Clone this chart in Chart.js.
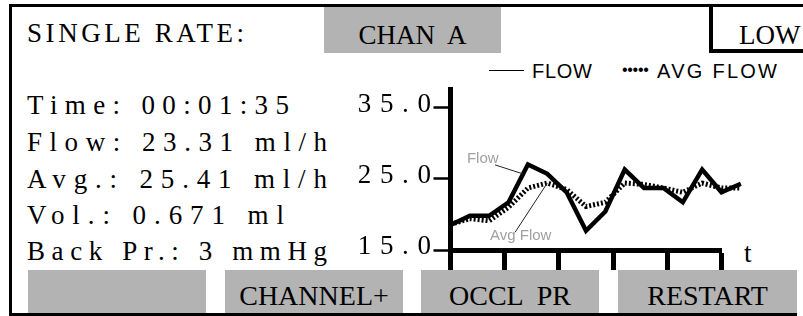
<!DOCTYPE html>
<html><head><meta charset="utf-8">
<script src="https://cdn.jsdelivr.net/npm/chart.js@4.4.1/dist/chart.umd.min.js"></script>
<style>
html,body{margin:0;padding:0;background:#fff;}
body{width:803px;height:316px;position:relative;overflow:hidden;font-family:"Liberation Serif","DejaVu Serif",serif;color:#000;}
.t{position:absolute;font-size:27px;line-height:27px;white-space:pre;}
.b{position:absolute;font-size:28px;line-height:28px;white-space:pre;text-align:center;}
.s{position:absolute;font-family:"Liberation Sans",Arial,sans-serif;font-size:20px;line-height:20px;white-space:pre;}
.box{position:absolute;background:#b3b3b3;}
.ln{position:absolute;background:#000;}
#wrap{position:absolute;left:340px;top:60px;width:460px;height:215px;z-index:5;}
</style>
</head><body>
<div class="ln" style="left:9px;top:4px;width:794px;height:3px"></div>
<div class="ln" style="left:9px;top:4px;width:3px;height:312px"></div>
<div class="ln" style="left:9px;top:313px;width:788px;height:3px"></div>
<div class="ln" style="left:709px;top:4px;width:4px;height:49px"></div>
<div class="ln" style="left:709px;top:49px;width:94px;height:4px"></div>
<div class="box" style="left:324px;top:7px;width:177px;height:46px"></div>
<div class="t fit" data-w="217" style="left:27px;top:20px">SINGLE RATE:</div>
<div class="t" style="left:324px;width:177px;text-align:center;top:21.5px">CHAN  A</div>
<div class="t" style="left:739px;top:21.5px">LOW</div>
<div class="ln" style="left:489px;top:69.5px;width:35px;height:1.2px"></div>
<div class="s fit" data-w="60" style="left:532px;top:61px">FLOW</div>
<div class="s" style="left:622px;top:62px;font-size:16px;line-height:16px;letter-spacing:-0.3px">•••••</div>
<div class="s fit" data-w="120" style="left:657px;top:61px">AVG FLOW</div>
<div class="t fit" data-w="262" style="left:27px;top:91.5px">Time: 00:01:35</div>
<div class="t fit" data-w="300" style="left:27px;top:128.5px">Flow: 23.31 ml/h</div>
<div class="t fit" data-w="300" style="left:27px;top:165.5px">Avg.: 25.41 ml/h</div>
<div class="t fit" data-w="257" style="left:27px;top:201.5px">Vol.: 0.671 ml</div>
<div class="t fit" data-w="300" style="left:27px;top:237.5px">Back Pr.: 3 mmHg</div>
<div class="t" style="left:744px;top:239.5px">t</div>
<div class="box" style="left:28px;top:270px;width:178px;height:43px"></div>
<div class="box" style="left:225px;top:270px;width:178px;height:43px"></div>
<div class="box" style="left:421px;top:270px;width:178px;height:43px"></div>
<div class="box" style="left:618px;top:270px;width:179px;height:43px"></div>
<div class="b" style="left:225px;width:178px;top:281.5px">CHANNEL+</div>
<div class="b" style="left:421px;width:178px;top:281.5px">OCCL  PR</div>
<div class="b" style="left:618px;width:179px;top:281.5px">RESTART</div>
<div id="wrap"><canvas id="c"></canvas></div>
<script>
// ---- data ----
const timeIndex     = [0,1,2,3,4,5,6,7,8,9,10,11,12,13,14,15];
const flowValues    = [18.5,19.8,19.8,21.7,27.0,25.7,23.1,17.7,20.4,26.3,23.7,23.7,21.7,26.3,23.1,24.3];
const avgFlowValues = [18.6,19.4,19.1,21.0,23.7,24.4,23.5,21.1,21.7,24.4,24.2,23.7,23.1,24.4,23.7,23.7];
const yTickValues   = [15,25,35];
const xTickValues   = [0,2.8,5.6,8.4,11.2,14];
const seriesNames   = ['Flow','Avg Flow'];
const xRange = [0,14], yRange = [15,37.6];

// letter-spacing fit for the monospaced-looking readouts
document.querySelectorAll('.fit').forEach(el=>{
  const w = el.getBoundingClientRect().width;
  const n = el.textContent.length;
  const tgt = +el.dataset.w;
  el.style.letterSpacing = ((tgt - w)/(n-1)).toFixed(2)+'px';
});

const lcdPlugin = {
  id:'lcd',
  beforeDraw(chart){ chart.ctx.letterSpacing = '8.6px'; },
  afterDatasetsDraw(chart){
    const ctx = chart.ctx, xs = chart.scales.x, ys = chart.scales.y;
    const P = (x,y)=>[xs.getPixelForValue(x), ys.getPixelForValue(y)];
    ctx.save();
    ctx.letterSpacing = '0px';
    ctx.font = '15px "Liberation Sans", Arial, sans-serif';
    ctx.fillStyle = '#a0a0a0';
    ctx.textBaseline = 'middle';
    ctx.textAlign = 'left';
    let [tx,ty] = P(0.85, 27.8);
    ctx.fillText(seriesNames[0], tx, ty);
    const f = 0.75;
    let a = P(2.3, 26.95), b = P(3+f, flowValues[3] + f*(flowValues[4]-flowValues[3]));
    ctx.strokeStyle = '#222'; ctx.lineWidth = 1;
    ctx.beginPath(); ctx.moveTo(a[0],a[1]); ctx.lineTo(b[0],b[1]); ctx.stroke();
    [tx,ty] = P(2.04, 16.97);
    ctx.fillText(seriesNames[1], tx, ty);
    a = P(3.34, 17.5); b = P(timeIndex[5], avgFlowValues[5]);
    ctx.beginPath(); ctx.moveTo(a[0],a[1]); ctx.lineTo(b[0],b[1]); ctx.stroke();
    ctx.restore();
  },
  afterDraw(chart){ chart.ctx.letterSpacing = '0px'; }
};

new Chart(document.getElementById('c'), {
  type:'line',
  data:{
    datasets:[
      {label:seriesNames[1], data: timeIndex.map((x,i)=>({x, y:avgFlowValues[i]})),
       borderColor:'#000', borderWidth:5, borderDash:[2,2], pointRadius:0, tension:0, clip:false, fill:false},
      {label:seriesNames[0], data: timeIndex.map((x,i)=>({x, y:flowValues[i]})),
       borderColor:'#000', borderWidth:4.5, pointRadius:0, tension:0, clip:false, fill:false,
       borderJoinStyle:'miter'}
    ]
  },
  options:{
    responsive:true, maintainAspectRatio:false, animation:false, devicePixelRatio:1,
    layout:{padding:{top:29,right:78.5,left:0,bottom:0}},
    plugins:{legend:{display:false}, tooltip:{enabled:false}},
    events:[],
    scales:{
      x:{type:'linear', bounds:'data',
         afterDataLimits(s){ s.min = xRange[0]; s.max = xRange[1]; },
         afterBuildTicks(s){ s.ticks = xTickValues.map(v=>({value:v})); s.min = xRange[0]; s.max = xRange[1]; },
         afterFit(s){ s.height = 25; },
         ticks:{display:false},
         grid:{display:true, drawOnChartArea:false, drawTicks:true, tickLength:20, tickWidth:5, tickColor:'#000'},
         border:{display:true, width:5, color:'#000'}},
      y:{type:'linear', bounds:'data',
         afterDataLimits(s){ s.min = yRange[0]; s.max = yRange[1]; },
         afterBuildTicks(s){ s.ticks = yTickValues.map(v=>({value:v})); s.min = yRange[0]; s.max = yRange[1]; },
         afterFit(s){ s.width = 110.5; },
         ticks:{color:'#000', padding:-6, labelOffset:-3,
                font:{family:'"Liberation Serif", "DejaVu Serif", serif', size:27},
                callback:v=>Number(v).toFixed(1)},
         grid:{display:true, drawOnChartArea:false, drawTicks:true, tickLength:17, tickWidth:2.5, tickColor:'#000'},
         border:{display:true, width:5, color:'#000'}}
    }
  },
  plugins:[lcdPlugin]
});
</script>
</body></html>
